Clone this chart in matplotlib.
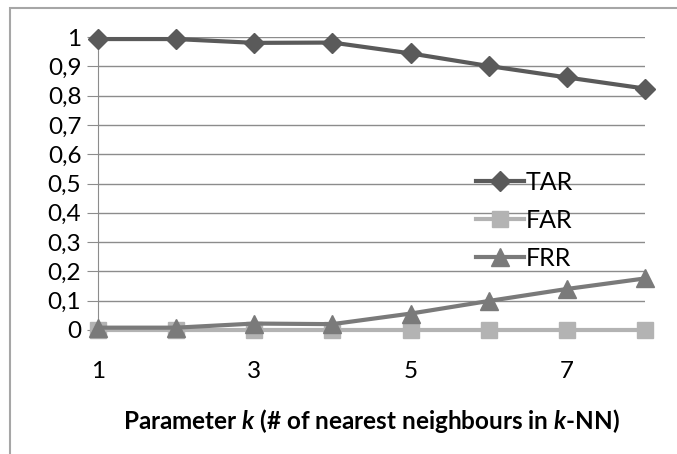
import matplotlib
matplotlib.use("Agg")
import numpy as np
from matplotlib import pyplot as plt
from matplotlib.patches import Rectangle

k_values = [1, 2, 3, 4, 5, 6, 7, 8]
tar = [0.993, 0.993, 0.980, 0.981, 0.944, 0.901, 0.862, 0.824]
far = [0.0, 0.0, 0.0, 0.0, 0.0, 0.0, 0.0, 0.0]
frr = [0.008, 0.008, 0.022, 0.020, 0.056, 0.099, 0.140, 0.176]

y_ticks = [0, 0.1, 0.2, 0.3, 0.4, 0.5, 0.6, 0.7, 0.8, 0.9, 1.0]
y_labels = ["0", "0,1", "0,2", "0,3", "0,4", "0,5", "0,6", "0,7", "0,8", "0,9", "1"]
x_ticks = [1, 3, 5, 7]

plt.rcParams['font.family'] = ['Lato', 'DejaVu Sans']
plt.rcParams['mathtext.fontset'] = 'custom'
plt.rcParams['mathtext.it'] = 'Lato:italic:bold'
plt.rcParams['mathtext.rm'] = 'Lato:bold'

W, H = 677, 454
fig = plt.figure(figsize=(W / 100, H / 100), dpi=100)
fig.patches.append(Rectangle((10 / W, -0.1), 1.2, 1 - 8 / H + 0.1, transform=fig.transFigure,
                             fill=False, edgecolor='#a6a6a6', linewidth=1.5))

ax = fig.add_axes([98 / W, 1 - 330 / H, (645 - 98) / W, (330 - 37) / H])

ax.plot(k_values, far, color='#b3b3b3', linewidth=3, marker='s', markersize=11.5,
        clip_on=False, zorder=3, label='FAR')
ax.plot(k_values, frr, color='#7a7a7a', linewidth=3, marker='^', markersize=12.5,
        clip_on=False, zorder=4, label='FRR')
ax.plot(k_values, tar, color='#5a5a5a', linewidth=3, marker='D', markersize=10,
        clip_on=False, zorder=5, label='TAR')

ax.set_xlim(1, 8)
ax.set_ylim(0, 1)
ax.set_yticks(y_ticks)
ax.set_yticklabels(y_labels)
ax.set_xticks(x_ticks)
ax.grid(axis='y', color='#8c8c8c', linewidth=1)
ax.set_axisbelow(True)
for s in ['top', 'right', 'bottom']:
    ax.spines[s].set_visible(False)
ax.spines['left'].set_color('#8c8c8c')
ax.tick_params(axis='y', length=8, color='#8c8c8c', labelsize=17.5, pad=4)
ax.tick_params(axis='x', length=0, labelsize=17.5, pad=22)

ax.set_xlabel("Parameter $k$ (# of nearest neighbours in $k$-NN)",
              fontsize=17.5, fontweight='bold', labelpad=18)

handles, labels = ax.get_legend_handles_labels()
order = [2, 0, 1]
ax.legend([handles[i] for i in order], [labels[i] for i in order],
          loc='upper left', bbox_to_anchor=(0.65, 0.62), frameon=False,
          fontsize=18, handlelength=1.9, handletextpad=0.1, labelspacing=0.6)

fig.savefig("out.png", dpi=100)
